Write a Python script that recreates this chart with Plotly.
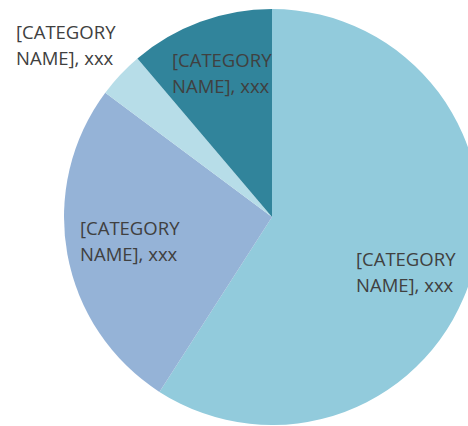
import plotly.graph_objects as go

# ---- data ----
categories = ["Category 1", "Category 2", "Category 3", "Category 4"]
display_names = ["[CATEGORY", "[CATEGORY", "[CATEGORY", "[CATEGORY"]
display_names2 = ["NAME]", "NAME]", "NAME]", "NAME]"]
value_labels = ["xxx", "xxx", "xxx", "xxx"]
values = [59.1, 26.1, 3.6, 11.2]
colors = ["#92CBDC", "#95B3D7", "#B7DDE8", "#31849B"]

W, H = 480, 426
# label anchor positions (pixels: left edge, vertical centre of 2-line block)
label_pos = [(354, 271), (78, 240), (14, 44), (170, 72)]
LINE_GAP = 26

fig = go.Figure(
    go.Pie(
        labels=categories,
        values=values,
        text=[f"{a} {b}, {c}" for a, b, c in zip(display_names, display_names2, value_labels)],
        marker=dict(colors=colors, line=dict(width=0)),
        sort=False,
        direction="clockwise",
        rotation=0,
        textinfo="none",
        hoverinfo="text",
        showlegend=False,
        domain=dict(x=[64 / W, 1.0], y=[1 / H, 417 / H]),
    )
)

font = dict(family="Open Sans", size=18.5, color="#404040")
for (px, py), a, b, c in zip(label_pos, display_names, display_names2, value_labels):
    for line_text, dy in ((a, -LINE_GAP / 2), (f"{b}, {c}", LINE_GAP / 2)):
        fig.add_annotation(
            x=px / W,
            y=1 - (py + dy) / H,
            xref="paper",
            yref="paper",
            xanchor="left",
            yanchor="middle",
            align="left",
            showarrow=False,
            text=line_text,
            font=font,
        )

fig.update_layout(
    width=W,
    height=H,
    margin=dict(l=0, r=0, t=0, b=0),
    paper_bgcolor="white",
    plot_bgcolor="white",
)

fig.write_html(
    "out.html",
    config={"displayModeBar": False},
    post_script="document.body.style.margin='0';document.body.style.overflow='hidden';",
)
